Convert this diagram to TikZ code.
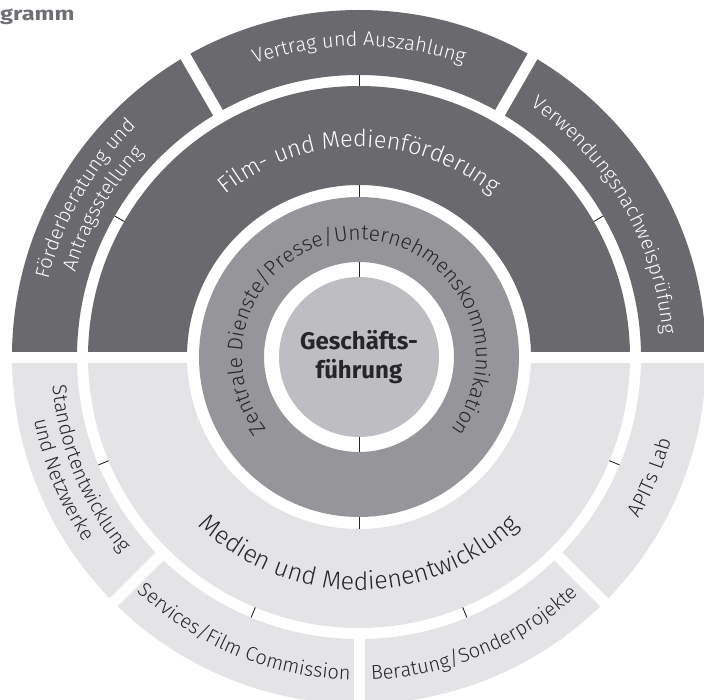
\documentclass[tikz,border=0pt]{standalone}
\usepackage{fontspec}
\setmainfont{Fira Sans Light}[BoldFont={Fira Sans SemiBold}]
\newfontfamily\heavyfont{Fira Sans}
\usetikzlibrary{decorations.text}
\definecolor{segdark}{RGB}{106,106,110}
\definecolor{segmid}{RGB}{150,150,154}
\definecolor{seginner}{RGB}{190,190,194}
\definecolor{seglight}{RGB}{228,228,230}
\definecolor{txtdark}{RGB}{38,38,40}
\definecolor{titlegray}{RGB}{112,112,116}
\newcommand\myfs[1]{\fontsize{#1}{#1}\selectfont}
\tikzset{
  gapline/.style={white, line width=11pt},
  tickline/.style={draw=black!85, line width=0.9pt},
  arctext/.style 2 args={decorate, decoration={text along path, text align=center, text color=#1, text={#2}}},
}
\begin{document}
\begin{tikzpicture}[x=1pt,y=1pt]
\useasboundingbox (-359,-342) rectangle (345,357);
\clip (-359,-342) rectangle (345,357);
% outer ring halves
\fill[segdark] (0:347) arc[start angle=0,end angle=180,radius=347] -- (180:282) arc[start angle=180,end angle=0,radius=282] -- cycle;
\fill[seglight] (180:347) arc[start angle=180,end angle=360,radius=347] -- (360:282) arc[start angle=360,end angle=180,radius=282] -- cycle;
% film / medien ring halves
\fill[segdark] (0:271) arc[start angle=0,end angle=180,radius=271] -- (180:172) arc[start angle=180,end angle=0,radius=172] -- cycle;
\fill[seglight] (180:271) arc[start angle=180,end angle=360,radius=271] -- (360:172) arc[start angle=360,end angle=180,radius=172] -- cycle;
% central services ring and core
\fill[segmid, even odd rule] (0,0) circle[radius=160] (0,0) circle[radius=95];
\fill[seginner] (0,0) circle[radius=80];
% white gaps
\draw[gapline] (-352,0) -- (-166,0);
\draw[gapline] (166,0) -- (352,0);
\foreach \a in {60,120,225,270,315} \draw[gapline] (\a:276) -- (\a:355);
% ticks
\foreach \a in {30,90,150,202.5,247.5,292.5,337.5} \draw[tickline] (\a:271) -- (\a:282);
\draw[tickline] (90:160) -- (90:172);
\draw[tickline] (270:160) -- (270:172);
\draw[tickline] (90:80) -- (90:95);
\draw[tickline] (270:80) -- (270:95);
% outer segment labels (top half, tops outward)
\path[arctext={white}{|\myfs{20}|Vertrag und Auszahlung}] (130:311) arc[start angle=130,end angle=50,radius=311];
\path[arctext={white}{|\myfs{20}|Förderberatung und}] (195:320) arc[start angle=195,end angle=105,radius=320];
\path[arctext={white}{|\myfs{20}|Antragsstellung}] (195:296) arc[start angle=195,end angle=105,radius=296];
\path[arctext={white}{|\myfs{20}|Verwendungsnachweisprüfung}] (80:304) arc[start angle=80,end angle=-20,radius=304];
% inner labels
\path[arctext={white}{|\myfs{23.5}|Film- und Medienförderung}] (150:210) arc[start angle=150,end angle=30,radius=210];
\path[arctext={txtdark}{|\myfs{21}|Zentrale Dienste/Presse/Unternehmenskommunikation}] (240:117) arc[start angle=240,end angle=-60,radius=117];
\path[arctext={txtdark}{|\myfs{25}|Medien und Medienentwicklung}] (195:233) arc[start angle=195,end angle=345,radius=233];
% outer segment labels (bottom half, tops inward)
\path[arctext={txtdark}{|\myfs{20}|Standortentwicklung}] (160:308) arc[start angle=160,end angle=245,radius=308];
\path[arctext={txtdark}{|\myfs{20}|und Netzwerke}] (160:331) arc[start angle=160,end angle=245,radius=331];
\path[arctext={txtdark}{|\myfs{20}|Services/Film Commission}] (205:323) arc[start angle=205,end angle=290,radius=323];
\path[arctext={txtdark}{|\myfs{20}|Beratung/Sonderprojekte}] (250:323) arc[start angle=250,end angle=335,radius=323];
\path[arctext={txtdark}{|\myfs{20}|APITs Lab}] (300:323) arc[start angle=300,end angle=375,radius=323];
% core
\node[font=\heavyfont\bfseries\fontsize{24}{29}\selectfont, align=center, text=txtdark] (gf) at (0,0) {Geschäfts-\\führung};
% title fragment
\node[anchor=base west, inner sep=0, font=\heavyfont\bfseries\myfs{19}, text=titlegray] (title) at (-359,336.3) {\scalebox{1.24}[1]{gramm}};
\end{tikzpicture}
\end{document}
